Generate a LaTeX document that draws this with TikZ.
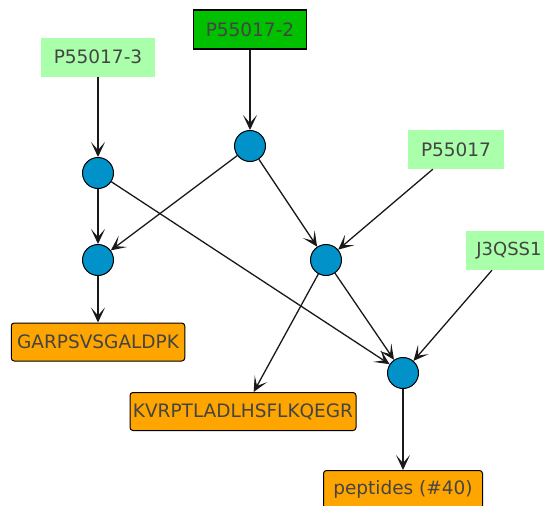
\documentclass[tikz,border=0pt]{standalone}
\usepackage{fontspec}
\setmainfont{DejaVu Sans}
\usepackage{tikz}
\usetikzlibrary{arrows.meta,positioning}
\definecolor{protgreen}{HTML}{AAFFAA}
\definecolor{selgreen}{HTML}{00C000}
\definecolor{pepfill}{HTML}{FFA500}
\definecolor{grpblue}{HTML}{0092C8}
\definecolor{lbl}{HTML}{444444}

\begin{document}
\begin{tikzpicture}[
    x=1pt, y=-1pt,
    font=\fontsize{18.5}{20}\selectfont,
    prot/.style={fill=protgreen, text=lbl, inner sep=0pt, minimum height=39pt},
    sel/.style={prot, fill=selgreen, draw=black, line width=1.2pt},
    pep/.style={draw=black, fill=pepfill, text=lbl, rounded corners=3pt,
                inner sep=0pt, minimum height=38pt, line width=1pt},
    grp/.style={circle, draw=black, fill=grpblue, minimum size=31pt,
                inner sep=0pt, line width=1pt},
    lnk/.style={-{Stealth[length=15pt,width=14pt,inset=8pt]}, line width=1.3pt, black!90},
    ]
\useasboundingbox (0,0) rectangle (544,506);
\clip (0,0) rectangle (544,506);

% proteins
\node[prot, minimum width=114pt] (p3) at (98,57) {P55017-3};
\node[sel, minimum width=113pt] (p2) at (250,29.5) {P55017-2};
\node[prot, minimum width=96pt] (p1) at (456,149.5) {P55017};
\node[prot, minimum width=86pt, font=\fontsize{18}{20}\selectfont] (j3) at (509,250.5) {J3QSS1};

% peptide groups
\node[grp] (g1) at (98,173) {};
\node[grp] (g2) at (250,146) {};
\node[grp] (g3) at (98,260) {};
\node[grp] (g4) at (326,260) {};
\node[grp] (g5) at (403,373) {};

% peptides
\node[pep, minimum width=173.5pt] (garp) at (98,342) {GARPSVSGALDPK};
\node[pep, minimum width=226pt] (kvrp) at (243,411.5) {KVRPTLADLHSFLKQEGR};
\node[pep, minimum width=159pt] (pept) at (403,489.5) {peptides (\#40)};

\draw[lnk] (p3) -- (g1);
\draw[lnk] (p2) -- (g2);
\draw[lnk] (p1) -- (g4);
\draw[lnk] (j3) -- (g5);
\draw[lnk] (g1) -- (g3);
\draw[lnk] (g2) -- (g3);
\draw[lnk] (g1) -- (g5);
\draw[lnk] (g2) -- (g4);
\draw[lnk] (g4) -- (g5);
\draw[lnk] (g4) -- (kvrp);
\draw[lnk] (g3) -- (garp);
\draw[lnk] (g5) -- (pept);
\end{tikzpicture}
\end{document}
